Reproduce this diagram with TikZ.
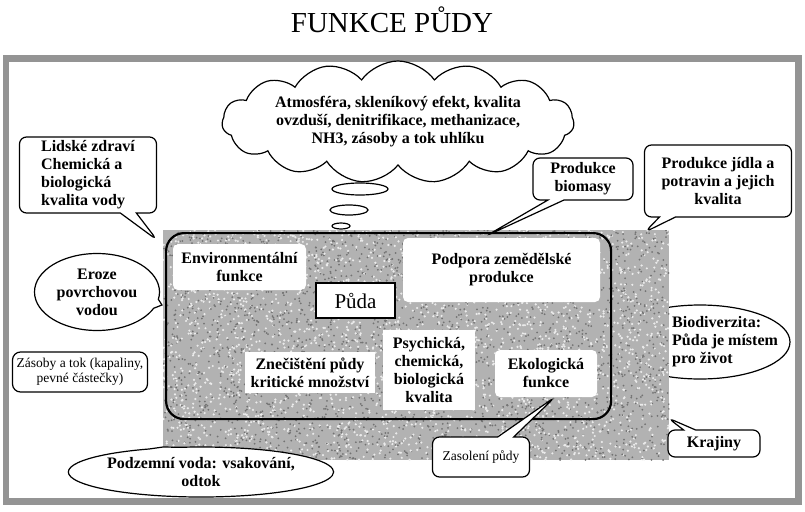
\documentclass[tikz,border=0pt]{standalone}
\usepackage{fontspec}
\setmainfont{Liberation Serif}
\usetikzlibrary{shapes.callouts,shapes.symbols,shapes.geometric}

\begin{document}
\begin{tikzpicture}[x=1pt, y=-1pt,
    testo/.style={font=\bfseries\fontsize{16}{18}\selectfont, align=center, inner sep=0pt},
    piccolo/.style={font=\fontsize{13.5}{15.5}\selectfont, align=center, inner sep=0pt},
    fumetto/.style={rectangle callout, draw, line width=1.2pt, rounded corners=7pt, fill=white, callout pointer width=16pt},
    ovale/.style={ellipse callout, draw, line width=1.2pt, fill=white, callout pointer arc=14},
    riquadro/.style={fill=white, rounded corners=5pt, testo}]

    % comando per le bolle del pensiero
    \newcommand{\bolla}[4]{
        \draw[line width=1.2pt] (#1,#2) ellipse [x radius=#3pt, y radius=#4pt];
    }

    \useasboundingbox (0,0) rectangle (805,511);

    % -- Titolo e cornice --
    \node[font=\fontsize{29}{32}\selectfont, anchor=base, inner sep=0pt] (titolo) at (392,33) {FUNKCE PŮDY};
    \draw[line width=6.5pt, black!42] (6,58.5) rectangle (798.5,501.5);

    % -- Nuvola in alto --
    \node[cloud, draw, line width=1.2pt, fill=white, cloud puffs=15, cloud puff arc=110,
          cloud ignores aspect, minimum width=352pt, minimum height=122pt, testo] (atmo) at (398,122)
        {Atmosféra, skleníkový efekt, kvalita\\ovzduší, denitrifikace, methanizace,\\NH3, zásoby a tok uhlíku};
    \bolla{360}{189}{28}{6}
    \bolla{349}{210}{19}{5}
    \bolla{341}{226}{9}{3}

    % -- Ellisse a destra (sotto la zona grigia) --
    \node[ellipse, draw, line width=1.2pt, fill=white, minimum width=180pt, minimum height=74pt] (bioell) at (700,342) {};

    % -- Zona grigia (krajina) --
    \node[fill=black!30, minimum width=506pt, minimum height=230pt, anchor=north west, inner sep=0pt] (krajina) at (163,230) {};
    \begin{scope}
        \clip (krajina.north west) rectangle (krajina.south east);
        \pgfmathsetseed{7}
        \foreach \i in {1,...,2600} {
            \fill[black!8] ({163+506*rnd},{230+230*rnd}) circle (1.2pt);
            \fill[black!55] ({163+506*rnd},{230+230*rnd}) circle (1pt);
        }
    \end{scope}

    % -- Riquadro arrotondato interno --
    \node[draw, line width=2.2pt, rounded corners=18pt, minimum width=445pt, minimum height=186pt,
          anchor=north west, inner sep=0pt] (oblast) at (165,232) {};

    % -- Caselle bianche --
    \node[riquadro, minimum width=133pt, minimum height=46pt] (env) at (239.5,267) {Environmentální\\funkce};
    \node[riquadro, minimum width=197pt, minimum height=64pt] (podpora) at (501.5,270) {Podpora zemědělské\\produkce};
    \node[draw, line width=1.5pt, fill=white, font=\fontsize{21}{24}\selectfont, minimum width=79pt, minimum height=35pt] (puda) at (355.5,300.5) {Půda};
    \node[riquadro, rounded corners=0pt, minimum width=130pt, minimum height=41pt] (znec) at (310,372.5) {Znečištění půdy\\kritické množství};
    \node[riquadro, rounded corners=0pt, minimum width=92pt, minimum height=80pt] (psych) at (429,370) {Psychická,\\chemická,\\biologická\\kvalita};
    \node[riquadro, minimum width=102pt, minimum height=47pt] (eko) at (546,373.5) {Ekologická\\funkce};

    % -- Punte dei fumetti --
    \coordinate (pLid) at (157,240);
    \coordinate (pEro) at (162,305);
    \coordinate (pPod) at (163,447);
    \coordinate (pBio) at (486,236);
    \coordinate (pJid) at (645,232);
    \coordinate (pZas) at (555,397);
    \coordinate (pKra) at (668,418);

    % -- Fumetti --
    \node[fumetto, callout absolute pointer={(pLid)}, minimum width=137pt, minimum height=76pt, testo, align=left] (lidske) at (88,175)
        {Lidské zdraví\\Chemická a\\biologická\\kvalita vody};
    \node[ovale, callout absolute pointer={(pEro)}, minimum width=125pt, minimum height=77pt, testo] (eroze) at (97,292)
        {Eroze\\povrchovou\\vodou};
    \node[draw, line width=1.2pt, rounded corners=8pt, minimum width=135pt, minimum height=40pt, piccolo] (zasoby) at (80,372)
        {Zásoby a tok (kapaliny,\\pevné částečky)};
    \node[ovale, callout absolute pointer={(pPod)}, minimum width=218pt, minimum height=50pt, testo] (podzemni) at (201,472)
        {Podzemní voda: vsakování,\\odtok};
    \node[fumetto, callout absolute pointer={(pBio)}, minimum width=100pt, minimum height=42pt, testo] (biomasa) at (583,179)
        {Produkce\\biomasy};
    \node[fumetto, callout absolute pointer={(pJid)}, minimum width=147pt, minimum height=72pt, testo] (jidlo) at (718,181)
        {Produkce jídla a\\potravin a jejich\\kvalita};
    \node[fumetto, callout absolute pointer={(pZas)}, minimum width=97pt, minimum height=40pt, piccolo] (zasoleni) at (481,457)
        {Zasolení půdy};
    \node[fumetto, callout absolute pointer={(pKra)}, callout pointer width=12pt, minimum width=92pt, minimum height=27pt, testo] (krajiny) at (714,443.5)
        {Krajiny};
    \node[testo, align=left, anchor=west] (biodiv) at (672,342)
        {Biodiverzita:\\Půda je místem\\pro život};

\end{tikzpicture}
\end{document}
